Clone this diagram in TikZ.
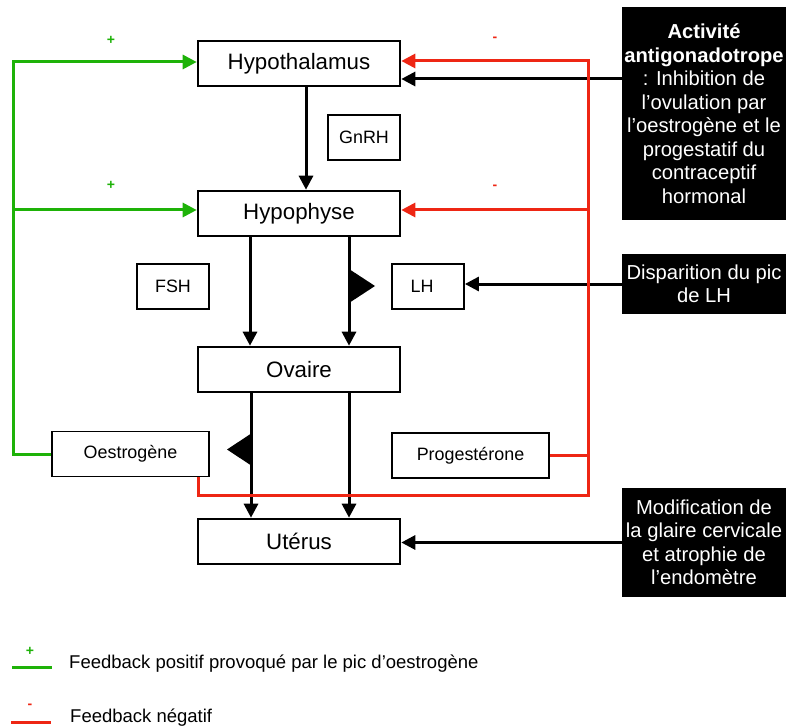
\documentclass[tikz,border=0pt]{standalone}
\usepackage{fontspec}
\setmainfont{Liberation Sans}
\usetikzlibrary{arrows.meta,calc}
\definecolor{fbgreen}{RGB}{30,178,8}
\definecolor{fbred}{RGB}{238,38,20}
\tikzset{
  mainbox/.style={draw, line width=2.6pt, minimum width=202pt, minimum height=45pt, inner sep=0pt, font=\fontsize{22.3}{26}\selectfont},
  smallbox/.style={draw, line width=1.8pt, minimum height=45pt, inner sep=0pt, font=\fontsize{17.9}{20}\selectfont},
  blackbox/.style={fill=black, text=white, inner sep=0pt, minimum width=164pt, align=center, font=\fontsize{20.2}{23.5}\selectfont},
  tip/.style={-{Triangle[length=14pt,width=14pt]}},
  arr/.style={line width=3pt, tip},
  grnarr/.style={line width=3pt, draw=fbgreen, color=fbgreen, tip},
  redarr/.style={line width=3pt, draw=fbred, color=fbred, tip},
  redline/.style={line width=3pt, draw=fbred},
  grnline/.style={line width=3pt, draw=fbgreen},
  sign/.style={font=\fontsize{14}{16}\selectfont\bfseries, inner sep=0pt},
  legtext/.style={anchor=west, inner sep=0pt, font=\fontsize{18.5}{21}\selectfont}
}
\begin{document}
\begin{tikzpicture}[x=1pt,y=-1pt]
\useasboundingbox (0,0) rectangle (786,727);

% main boxes
\node[mainbox] (hypothal) at (299,63.5) {Hypothalamus};
\node[mainbox] (hypophyse) at (299,213.5) {Hypophyse};
\node[mainbox] (ovaire) at (299,369.5) {Ovaire};
\node[mainbox] (uterus) at (299,541.5) {Utérus};

% small boxes
\node[smallbox, minimum width=72pt] (gnrh) at (364,137.5) {GnRH};
\node[smallbox, minimum width=72pt] (fsh) at (173,286.5) {FSH};
\node[smallbox, minimum width=72pt] (lh) at (428,286.5) {\hspace*{-12pt}LH};
\node[smallbox, minimum width=157pt] (oest) at (130.5,454) {Oestrogène};
\node[smallbox, minimum width=157pt] (proges) at (470.5,455.5) {Progestérone};

% black boxes
\node[blackbox, minimum height=213pt] (act) at (704,113.5) {\textbf{Activité}\\\textbf{antigonadotrope}\\: Inhibition de\\l’ovulation par\\l’oestrogène et le\\progestatif du\\contraceptif\\hormonal};
\node[blackbox, minimum height=60pt] (disp) at (704,284) {Disparition du pic\\de LH};
\node[blackbox, minimum height=109pt] (modif) at (704,542.5) {Modification de\\la glaire cervicale\\et atrophie de\\l’endomètre};

% black hormonal arrows
\draw[arr] ([xshift=7pt]hypothal.south) -- ([xshift=7pt]hypophyse.north);
\draw[arr] ([xshift=-49pt]hypophyse.south) -- ([xshift=-49pt]ovaire.north);
\draw[arr] ([xshift=50pt]hypophyse.south) -- ([xshift=50pt]ovaire.north);
\draw[arr] ([xshift=-48pt]ovaire.south) -- ([xshift=-48pt]uterus.north);
\draw[arr] ([xshift=50pt]ovaire.south) -- ([xshift=50pt]uterus.north);

% triangle markers
\fill (349,269) -- (375,286) -- (349,303) -- cycle;
\fill (252,433) -- (227,449.5) -- (252,466) -- cycle;

% arrows from black boxes
\coordinate (ab) at (622,79);
\draw[arr] (act.west |- ab) -- (ab -| hypothal.east);
\draw[arr] (disp.west) -- (disp.west -| lh.east);
\draw[arr] (modif.west) -- (modif.west -| uterus.east);

% green positive feedback
\coordinate (gtop) at (13,62);
\coordinate (gmid) at (13,210);
\draw[grnarr] (oest.west) -| (gtop) -- (gtop -| hypothal.west);
\draw[grnarr] (gmid) -- (gmid -| hypophyse.west);

% red negative feedback
\coordinate (rbot) at (588,495);
\coordinate (rtop) at (588,61);
\coordinate (rmid) at (588,210);
\draw[redarr] ([xshift=67.5pt]oest.south) |- (rbot) -- (rtop) -- (rtop -| hypothal.east);
\draw[redarr] (rmid) -- (rmid -| hypophyse.east);
\draw[redline] (proges.east) -- (proges.east -| rbot);

% signs
\node[sign, text=fbgreen] (p1) at (111,40) {+};
\node[sign, text=fbgreen] (p2) at (111,185) {+};
\node[sign, text=fbred] (m1) at (495,39) {-};
\node[sign, text=fbred] (m2) at (495,187) {-};

% legend
\draw[grnline] (12,667) -- (52,667);
\node[sign, text=fbgreen] (lp) at (30,651) {+};
\node[legtext] (lt1) at (69,664) {Feedback positif provoqué par le pic d’oestrogène};
\draw[redline] (11,722) -- (51,722);
\node[sign, text=fbred] (lm) at (30,706) {-};
\node[legtext] (lt2) at (70,718) {Feedback négatif};
\end{tikzpicture}
\end{document}
